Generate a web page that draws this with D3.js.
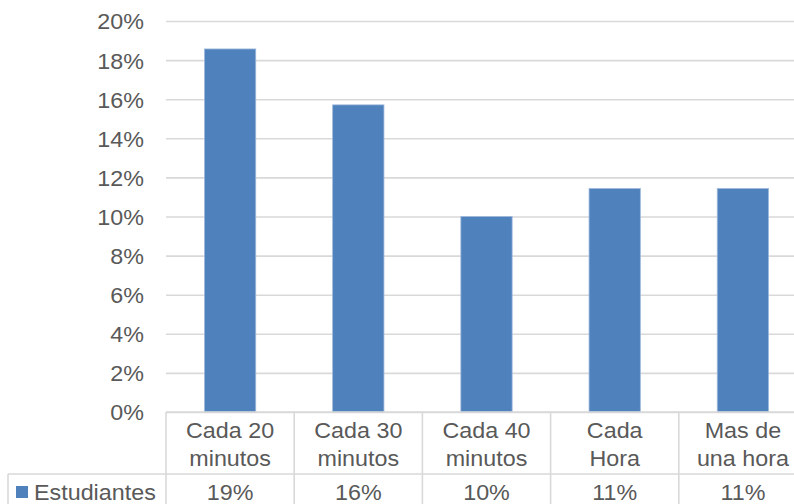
<!DOCTYPE html>
<html>
<head>
<meta charset="utf-8">
<script src="https://cdn.jsdelivr.net/npm/d3@7/dist/d3.min.js"></script>
<style>
  html, body { margin: 0; padding: 0; background: #fff; }
  svg { display: block; }
  text { font-family: "Liberation Sans", Arial, sans-serif; fill: #595959; }
</style>
</head>
<body>
<svg id="chart" width="794" height="504"></svg>
<script>
// Frequency categories (each label split across two lines in the table header)
const categories = ["Cada 20 minutos", "Cada 30 minutos", "Cada 40 minutos", "Cada Hora", "Mas de una hora"];
const categoryLines = [["Cada 20", "minutos"], ["Cada 30", "minutos"], ["Cada 40", "minutos"], ["Cada", "Hora"], ["Mas de", "una hora"]];
// Share of students per category
const seriesName = "Estudiantes";
const values = [0.1857, 0.1571, 0.1000, 0.1143, 0.1143];
// Y axis ticks
const yTicks = [0, 0.02, 0.04, 0.06, 0.08, 0.10, 0.12, 0.14, 0.16, 0.18, 0.20];

const svg = d3.select("#chart");
const plotLeft = 166, plotRight = 807, plotTop = 21, plotBottom = 412;
const rowH = 62, tableLeft = 8;
const fontSize = 22;
const barColor = "#4F81BD";
const gridColor = "#D9D9D9";

const y = d3.scaleLinear().domain([0, 0.2]).range([plotBottom, plotTop]);
const x = d3.scaleBand().domain(categories).range([plotLeft, plotRight])
  .paddingInner(0.6).paddingOuter(0.3);
const pct = d3.format(".0%");

// Horizontal gridlines
const grid = svg.append("g").attr("transform", `translate(${plotLeft},0)`)
  .call(d3.axisLeft(y).tickValues(yTicks).tickSize(-(plotRight - plotLeft)).tickFormat(""));
grid.select(".domain").remove();
grid.selectAll(".tick line").attr("stroke", gridColor).attr("stroke-width", 1.6);

// Y axis labels
const yAxis = svg.append("g").attr("transform", `translate(144,0)`)
  .call(d3.axisLeft(y).tickValues(yTicks).tickSize(0).tickPadding(0).tickFormat(pct));
yAxis.select(".domain").remove();
yAxis.selectAll(".tick text")
  .attr("font-size", fontSize).attr("dy", "0.36em")
  .style("font-family", "'Liberation Sans', Arial, sans-serif").attr("fill", "#595959")
  .attr("transform", "scale(1.06,1)");

// Bars
svg.append("g").selectAll("rect").data(values).join("rect")
  .attr("x", (d, i) => x(categories[i]))
  .attr("y", d => y(d))
  .attr("width", x.bandwidth())
  .attr("height", d => y(0) - y(d))
  .attr("fill", barColor)
  .attr("stroke", "#9db8dc").attr("stroke-width", 0.8);

// Data table
const table = svg.append("g");
const colEdges = categories.map(c => x(c) - x.step() * x.paddingInner() / 2);
const rowsTop = plotBottom, rowsMid = plotBottom + rowH;

// horizontal borders
table.append("line").attr("x1", plotLeft).attr("x2", plotRight).attr("y1", rowsTop).attr("y2", rowsTop);
table.append("line").attr("x1", tableLeft).attr("x2", plotRight).attr("y1", rowsMid).attr("y2", rowsMid);
// vertical borders
table.selectAll("line.col").data(colEdges.concat([plotRight])).join("line").attr("class", "col")
  .attr("x1", d => d).attr("x2", d => d).attr("y1", rowsTop).attr("y2", 504);
table.append("line").attr("x1", tableLeft).attr("x2", tableLeft).attr("y1", rowsMid).attr("y2", 504);
table.selectAll("line").attr("stroke", gridColor).attr("stroke-width", 1.6);

// Category header
const header = table.selectAll("text.cat").data(categories).join("text").attr("class", "cat")
  .attr("text-anchor", "middle").attr("font-size", fontSize)
  .attr("transform", d => `translate(${x(d) + x.bandwidth() / 2},0) scale(1.06,1)`);
header.selectAll("tspan").data((d, i) => categoryLines[i]).join("tspan")
  .attr("x", 0).attr("y", (d, j) => 438 + j * 28).text(d => d);

// Value row
table.selectAll("text.val").data(values).join("text").attr("class", "val")
  .attr("text-anchor", "middle").attr("font-size", fontSize)
  .attr("transform", (d, i) => `translate(${x(categories[i]) + x.bandwidth() / 2},500) scale(1.06,1)`)
  .text(d => pct(d));

// Legend key in the table
table.append("rect").attr("x", 16).attr("y", 486).attr("width", 12).attr("height", 12).attr("fill", barColor);
table.append("text").attr("font-size", fontSize)
  .attr("transform", "translate(34,500) scale(1.06,1)").text(seriesName);
</script>
</body>
</html>
